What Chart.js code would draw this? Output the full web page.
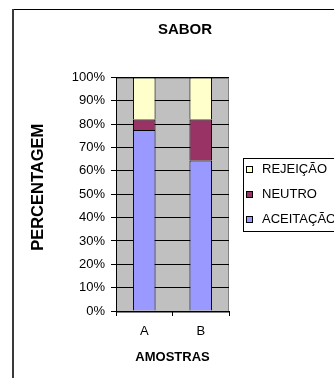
<!DOCTYPE html>
<html>
<head>
<meta charset="utf-8">
<script src="https://cdn.jsdelivr.net/npm/chart.js@4/dist/chart.umd.min.js"></script>
<style>
  html, body { margin: 0; padding: 0; background: #fff; overflow: hidden; width: 334px; height: 378px; }
  #wrap { position: relative; width: 358px; height: 378px; }
  canvas { display: block; }
</style>
</head>
<body>
<div id="wrap"><canvas id="chart" width="358" height="378"></canvas></div>
<script>
// Amostras avaliadas e distribuição das respostas (%)
const categories = ['A', 'B'];
const aceitacao = [77.5, 64.5];
const neutro = [4.5, 17.5];
const rejeicao = [18, 18];
const percentTicks = [0, 10, 20, 30, 40, 50, 60, 70, 80, 90, 100];

const FONT = "'Liberation Sans', Arial, sans-serif";
Chart.defaults.font.family = FONT;
Chart.defaults.color = '#000';

// Fundo, moldura do gráfico e área de plotagem cinza
const backdrop = {
  id: 'backdrop',
  beforeDraw(chart) {
    const { ctx, width, height, chartArea: a } = chart;
    ctx.save();
    ctx.fillStyle = '#fff';
    ctx.fillRect(0, 0, width, height);
    ctx.fillStyle = '#000';
    ctx.fillRect(12, 9, width - 12, 1);
    ctx.fillStyle = '#3a3a3a';
    ctx.fillRect(12, 9, 2, height - 9);
    ctx.fillStyle = '#C0C0C0';
    ctx.fillRect(a.left, a.top, a.right - a.left, a.bottom - a.top);
    ctx.strokeStyle = '#808080';
    ctx.lineWidth = 1;
    ctx.strokeRect(Math.round(a.left) + 0.5, Math.round(a.top) + 0.5,
                   Math.round(a.right - a.left) - 1, Math.round(a.bottom - a.top));
    ctx.restore();
  }
};

// Legenda com moldura, à direita da área de plotagem
const sideLegend = {
  id: 'sideLegend',
  beforeInit(chart) {
    const box = {
      position: 'right',
      weight: 0,
      fullSize: false,
      options: {},
      width: 129,
      height: 0,
      isHorizontal() { return false; },
      getPadding() { return { top: 0, left: 0, right: 0, bottom: 0 }; },
      update(maxWidth, maxHeight) { this.width = 129; this.height = maxHeight; },
      draw() {
        const ctx = chart.ctx;
        const a = chart.chartArea;
        const left = Math.round(this.left) + 14;
        const w = 106, h = 73, rowH = 25;
        const top = Math.round((a.top + a.bottom) / 2 - h / 2);
        ctx.save();
        ctx.fillStyle = '#fff';
        ctx.fillRect(left, top, w, h);
        ctx.strokeStyle = '#000';
        ctx.lineWidth = 1;
        ctx.strokeRect(left + 0.5, top + 0.5, w, h);
        ctx.font = '13px ' + FONT;
        ctx.textBaseline = 'middle';
        const items = chart.data.datasets.slice().reverse();
        items.forEach((ds, i) => {
          const cy = top + 11.5 + i * rowH;
          const sy = Math.round(cy - 3.5);
          ctx.fillStyle = ds.backgroundColor;
          ctx.fillRect(left + 3, sy, 7, 7);
          ctx.strokeStyle = '#000';
          ctx.strokeRect(left + 3.5, sy + 0.5, 6, 6);
          ctx.fillStyle = '#000';
          ctx.fillText(ds.label, left + 19, cy);
        });
        ctx.restore();
      }
    };
    Chart.layouts.addBox(chart, box);
  }
};

const barStyle = { borderColor: '#000', borderWidth: 1, barPercentage: 0.4, categoryPercentage: 1 };

new Chart(document.getElementById('chart'), {
  type: 'bar',
  data: {
    labels: categories,
    datasets: [
      Object.assign({ label: 'ACEITAÇÃO', data: aceitacao, backgroundColor: '#9999FF' }, barStyle),
      Object.assign({ label: 'NEUTRO', data: neutro, backgroundColor: '#993366' }, barStyle),
      Object.assign({ label: 'REJEIÇÃO', data: rejeicao, backgroundColor: '#FFFFCC' }, barStyle)
    ]
  },
  plugins: [backdrop, sideLegend],
  options: {
    responsive: false,
    animation: false,
    devicePixelRatio: 1,
    layout: { padding: { left: 12, top: 10, right: 0, bottom: 0 } },
    plugins: {
      legend: { display: false },
      tooltip: { enabled: false },
      title: {
        display: true,
        text: 'SABOR',
        color: '#000',
        font: { size: 15, weight: 'bold' },
        padding: { top: 10.5, bottom: 39 }
      }
    },
    scales: {
      x: {
        stacked: true,
        offset: true,
        grid: { offset: true, drawOnChartArea: false, drawTicks: true, tickLength: 5, color: '#000' },
        border: { color: '#000', width: 1 },
        ticks: { color: '#000', font: { size: 13 }, padding: 8, maxRotation: 0 },
        title: {
          display: true,
          text: 'AMOSTRAS',
          color: '#000',
          font: { size: 13, weight: 'bold' },
          padding: { top: 0, bottom: 12.5 }
        },
        afterFit(scale) { scale.height = 67; }
      },
      y: {
        stacked: true,
        min: 0,
        max: 100,
        afterBuildTicks(scale) { scale.ticks = percentTicks.map(v => ({ value: v })); },
        grid: { color: '#000', lineWidth: 1, tickLength: 5 },
        border: { color: '#000', width: 1 },
        ticks: { color: '#000', font: { size: 13 }, padding: 6, callback: v => v + '%' },
        title: {
          display: true,
          text: 'PERCENTAGEM',
          color: '#000',
          font: { size: 16.5, weight: 'bold' },
          padding: { top: 17, bottom: 0 }
        },
        afterFit(scale) {
          scale.width = 104;
          // o título do eixo fica um pouco acima do centro da área de plotagem
          if (!scale._titleShifted) {
            const drawTitle = scale.drawTitle;
            scale.drawTitle = function () {
              this.ctx.save();
              this.ctx.translate(0, -7);
              drawTitle.call(this);
              this.ctx.restore();
            };
            scale._titleShifted = true;
          }
        }
      }
    }
  }
});
</script>
</body>
</html>
